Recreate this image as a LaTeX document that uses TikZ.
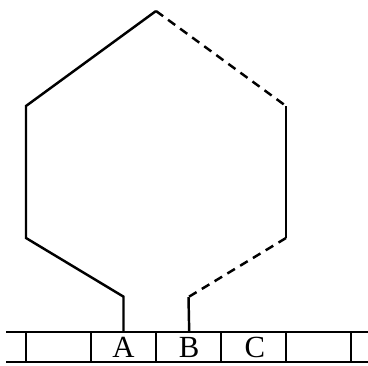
\documentclass[tikz,border=0pt]{standalone}
\usepackage{fontspec}
\setmainfont{Liberation Serif}
\usetikzlibrary{positioning}
\tikzset{
  wire/.style={line width=1.4pt},
  gap/.style={wire, dash pattern=on 5pt off 3.5pt},
  cell/.style={minimum width=1.3cm, minimum height=0.6cm, inner sep=0pt,
    font=\fontsize{17.5}{19}\selectfont}
}
\begin{document}
\begin{tikzpicture}[x=0.02cm, y=-0.02cm]
  \useasboundingbox (0,0) rectangle (368,365);
  % tape
  \draw[wire] (6,332) -- (368,332) (6,362) -- (368,362);
  \foreach \x in {26,91,...,351}
    \draw[wire] (\x,332) -- (\x,362);
  % cells
  \node[cell] (A) at (123.5,347) {A};
  \node[cell, right=0pt of A] (B) {B};
  \node[cell, right=0pt of B] (C) {C};
  % loop corners
  \coordinate (top) at (156,11);
  \coordinate (lu) at (26,106);
  \coordinate (ll) at (26,238);
  \coordinate (ru) at (286,106);
  \coordinate (rl) at (286,238);
  \coordinate (bk) at (188.5,297);
  % solid side
  \draw[wire] (A.north) -- ++(0,-35) -- (ll) -- (lu) -- (top);
  % dashed side
  \draw[gap] (top) -- (ru);
  \draw[wire] (ru) -- (rl);
  \draw[gap] (rl) -- (bk);
  \draw[wire] (bk) -- (B.north);
\end{tikzpicture}
\end{document}
